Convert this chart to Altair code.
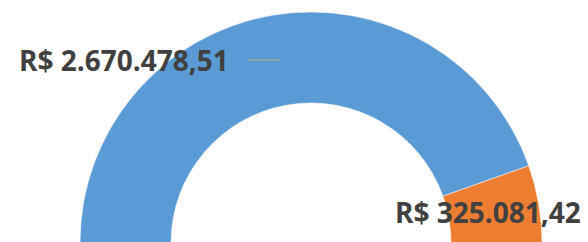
import math
import altair as alt
import pandas as pd

categories = ["A", "B"]
values = [2670478.51, 325081.42]
labels = ["R$ 2.670.478,51", "R$ 325.081,42"]
colors = ["#5B9BD5", "#ED7D31"]

df = pd.DataFrame({"cat": categories, "value": values, "label": labels, "ord": [0, 1]})

W, H = 572, 234
CX, CY = 303, 235

arc = alt.Chart(df).mark_arc(innerRadius=140, outerRadius=231, stroke="white", strokeWidth=0.5).encode(
    theta=alt.Theta("value:Q", stack=True, scale=alt.Scale(range=[-math.pi / 2, math.pi / 2])),
    color=alt.Color("cat:N", scale=alt.Scale(domain=categories, range=colors), legend=None),
    order=alt.Order("ord:Q"),
    x=alt.value(CX),
    y=alt.value(CY),
)

txt_style = dict(font="Open Sans", fontWeight="bold", fontSize=28, color="#404040", align="left", baseline="alphabetic")

t1 = alt.Chart(df[df.cat == "A"]).mark_text(**txt_style).encode(
    text="label:N", x=alt.value(11), y=alt.value(63)
)
t2 = alt.Chart(df[df.cat == "B"]).mark_text(**txt_style).encode(
    text="label:N", x=alt.value(387), y=alt.value(215)
)
leader = alt.Chart(df[df.cat == "A"]).mark_rule(color="#A5A5A5", strokeWidth=1.5).encode(
    x=alt.value(240), x2=alt.value(272), y=alt.value(52)
)

chart = alt.layer(arc, leader, t1, t2).properties(
    width=W, height=H, padding=0, autosize=alt.AutoSizeParams(type="none")
).configure_view(stroke=None)

chart.save("out.html", embed_options={"renderer": "svg", "actions": False})
